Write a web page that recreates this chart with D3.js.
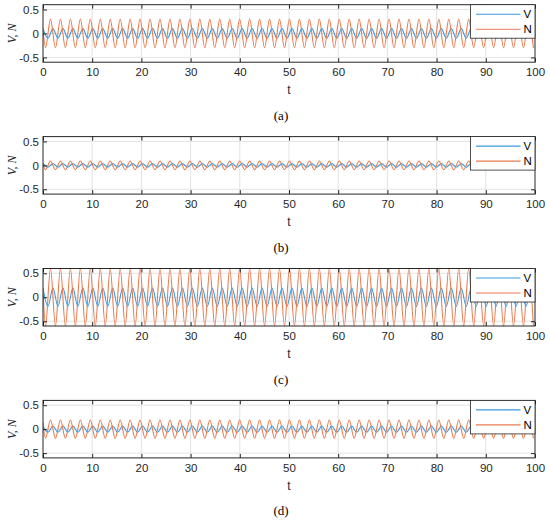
<!DOCTYPE html>
<html>
<head>
<meta charset="utf-8">
<script src="https://cdn.jsdelivr.net/npm/d3@7"></script>
<style>
  body { margin: 0; background: #fff; }
  svg { display: block; }
  .tick text { font-family: "Liberation Sans", Arial, sans-serif; font-size: 11.5px; fill: #262626; }
  .tick line { stroke: #262626; }
</style>
</head>
<body>
<svg id="chart" width="550" height="524"></svg>
<script>
// times of the turning points (t), about a quarter period apart
const tExt = [
  0, 0.51, 1.01, 1.52, 2.02, 2.53, 3.04, 3.54, 4.05, 4.55, 5.06, 5.57, 6.07, 6.58, 7.08, 7.59, 8.1, 8.6, 9.11, 9.61,
  10.12, 10.63, 11.13, 11.64, 12.14, 12.65, 13.16, 13.66, 14.17, 14.67, 15.18, 15.69, 16.19, 16.7, 17.2, 17.71, 18.22, 18.72, 19.23, 19.73,
  20.24, 20.75, 21.25, 21.76, 22.26, 22.77, 23.28, 23.78, 24.29, 24.79, 25.3, 25.81, 26.31, 26.82, 27.32, 27.83, 28.34, 28.84, 29.35, 29.85,
  30.36, 30.87, 31.37, 31.88, 32.38, 32.89, 33.4, 33.9, 34.41, 34.91, 35.42, 35.93, 36.43, 36.94, 37.44, 37.95, 38.46, 38.96, 39.47, 39.97,
  40.48, 40.99, 41.49, 42, 42.5, 43.01, 43.52, 44.02, 44.53, 45.03, 45.54, 46.05, 46.55, 47.06, 47.56, 48.07, 48.58, 49.08, 49.59, 50.09,
  50.6, 51.11, 51.61, 52.12, 52.62, 53.13, 53.64, 54.14, 54.65, 55.15, 55.66, 56.17, 56.67, 57.18, 57.68, 58.19, 58.7, 59.2, 59.71, 60.21,
  60.72, 61.23, 61.73, 62.24, 62.74, 63.25, 63.76, 64.26, 64.77, 65.27, 65.78, 66.29, 66.79, 67.3, 67.8, 68.31, 68.82, 69.32, 69.83, 70.33,
  70.84, 71.35, 71.85, 72.36, 72.86, 73.37, 73.88, 74.38, 74.89, 75.39, 75.9, 76.41, 76.91, 77.42, 77.92, 78.43, 78.94, 79.44, 79.95, 80.45,
  80.96, 81.47, 81.97, 82.48, 82.98, 83.49, 84, 84.5, 85.01, 85.51, 86.02, 86.53, 87.03, 87.54, 88.04, 88.55, 89.06, 89.56, 90.07, 90.57,
  91.08, 91.59, 92.09, 92.6, 93.1, 93.61, 94.12, 94.62, 95.13, 95.63, 96.14, 96.65, 97.15, 97.66, 98.16, 98.67, 99.18, 99.68, 100.19
];

// one entry per panel
const captions = ["(a)", "(b)", "(c)", "(d)"];
const ampV = [0.1, 0.04, 0.19, 0.065];   // swing of V
const ampN = [0.3, 0.09, 0.6, 0.19];     // swing of N
const startN = [0.1, 0.04, 0.2, 0.15];   // N at t = 0

const xTicks = [0, 10, 20, 30, 40, 50, 60, 70, 80, 90, 100];
const yTicks = [-0.5, 0, 0.5];
const names = ["V", "N"];
const colors = ["#3b9be0", "#ea7b50"];

const svg = d3.select("#chart");
svg.append("rect").attr("width", 550).attr("height", 524).attr("fill", "#fff");

const x = d3.scaleLinear().domain([0, 100]).range([43, 535]);
const panelH = 57.5;
const step = 131.9;

// V peaks at even turning points, N at odd ones
function seriesV(p) {
  const pts = [];
  tExt.forEach((t, k) => {
    if (k % 2 === 0) pts.push({ t, y: (k / 2) % 2 === 0 ? ampV[p] : -ampV[p] });
  });
  return pts;
}
function seriesN(p) {
  const pts = [{ t: 0, y: startN[p] }];
  tExt.forEach((t, k) => {
    if (k % 2 === 1) pts.push({ t, y: ((k - 1) / 2) % 2 === 0 ? -ampN[p] : ampN[p] });
  });
  return pts;
}

captions.forEach((cap, p) => {
  const top = 4.7 + p * step;
  const y = d3.scaleLinear().domain([-0.6, 0.6]).range([top + panelH, top]);
  const g = svg.append("g");

  // grid
  g.append("g").selectAll("line").data(xTicks.slice(1, -1)).enter().append("line")
    .attr("x1", d => x(d)).attr("x2", d => x(d))
    .attr("y1", top).attr("y2", top + panelH)
    .attr("stroke", "#e3e3e3").attr("stroke-width", 1);
  g.append("g").selectAll("line").data(yTicks).enter().append("line")
    .attr("x1", x(0)).attr("x2", x(100))
    .attr("y1", d => y(d)).attr("y2", d => y(d))
    .attr("stroke", "#e3e3e3").attr("stroke-width", 1);

  // lines, clipped to the axes
  const clipId = "clip" + p;
  svg.append("clipPath").attr("id", clipId).append("rect")
    .attr("x", x(0)).attr("y", top).attr("width", x(100) - x(0)).attr("height", panelH);

  const line = d3.line().x(d => x(d.t)).y(d => y(d.y)).curve(d3.curveMonotoneX);
  [seriesV(p), seriesN(p)].forEach((data, i) => {
    g.append("path").datum(data)
      .attr("clip-path", `url(#${clipId})`)
      .attr("fill", "none")
      .attr("stroke", colors[i])
      .attr("stroke-width", 1.1)
      .attr("d", line);
  });

  // axes, ticks pointing inward
  const fmt = d => String(d);
  g.append("g").attr("transform", `translate(0,${top + panelH})`)
    .call(d3.axisBottom(x).tickValues(xTicks).tickSize(-4).tickPadding(6).tickFormat(fmt))
    .call(a => a.select(".domain").remove());
  g.append("g").attr("transform", `translate(0,${top})`)
    .call(d3.axisTop(x).tickValues(xTicks).tickSize(-4).tickFormat(""))
    .call(a => a.select(".domain").remove());
  g.append("g").attr("transform", `translate(${x(0)},0)`)
    .call(d3.axisLeft(y).tickValues(yTicks).tickSize(-4).tickPadding(4).tickFormat(fmt))
    .call(a => a.select(".domain").remove());
  g.append("g").attr("transform", `translate(${x(100)},0)`)
    .call(d3.axisRight(y).tickValues(yTicks).tickSize(-4).tickFormat(""))
    .call(a => a.select(".domain").remove());
  g.append("rect")
    .attr("x", x(0)).attr("y", top).attr("width", x(100) - x(0)).attr("height", panelH)
    .attr("fill", "none").attr("stroke", "#262626").attr("stroke-width", 1);

  // axis labels
  g.append("text")
    .attr("transform", `translate(11.5,${top + panelH / 2}) rotate(-90)`)
    .attr("dy", "0.35em")
    .attr("text-anchor", "middle")
    .style("font-family", "'Liberation Serif', 'Times New Roman', serif")
    .style("font-style", "italic")
    .style("font-size", "12px")
    .attr("fill", "#262626")
    .text("V,  N");
  g.append("text")
    .attr("x", (x(0) + x(100)) / 2).attr("y", top + 89.3)
    .attr("text-anchor", "middle")
    .style("font-family", "'Liberation Sans', Arial, sans-serif")
    .style("font-size", "12px")
    .attr("fill", "#262626")
    .text("t");
  g.append("text")
    .attr("x", 281).attr("y", top + 115)
    .attr("text-anchor", "middle")
    .style("font-family", "'Liberation Serif', 'Times New Roman', serif")
    .style("font-size", "13px")
    .attr("fill", "#000")
    .text(cap);

  // legend
  const lg = g.append("g").attr("transform", `translate(470.5,${top})`);
  lg.append("rect").attr("width", 64.5).attr("height", 33.5)
    .attr("fill", "#fff").attr("stroke", "#262626").attr("stroke-width", 0.8);
  names.forEach((n, i) => {
    const ly = 9.5 + i * 15;
    lg.append("line").attr("x1", 5.5).attr("x2", 50).attr("y1", ly).attr("y2", ly)
      .attr("stroke", colors[i]).attr("stroke-width", 1.1);
    lg.append("text").attr("x", 53).attr("y", ly).attr("dy", "0.35em")
      .style("font-family", "'Liberation Sans', Arial, sans-serif")
      .style("font-size", "11.5px")
      .attr("fill", "#000")
      .text(n);
  });
});
</script>
</body>
</html>
